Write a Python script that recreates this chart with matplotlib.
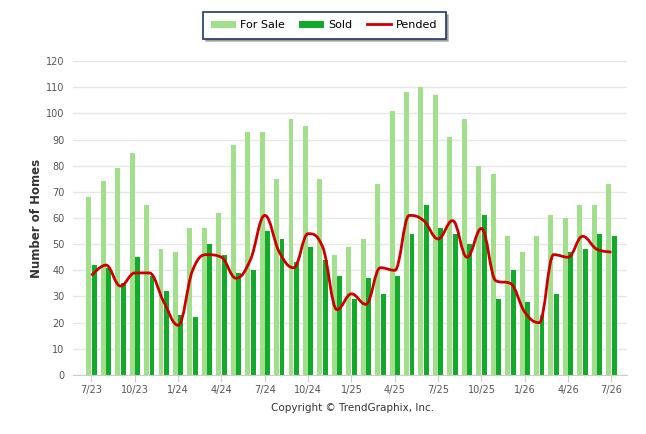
import matplotlib
matplotlib.use("Agg")
import matplotlib.pyplot as plt
from matplotlib.path import Path
from matplotlib.patches import PathPatch, Patch
from matplotlib.lines import Line2D
import numpy as np

# Valeurs mensuelles (7/23 -> 7/26)
mois = ['7/23', '8/23', '9/23', '10/23', '11/23', '12/23',
        '1/24', '2/24', '3/24', '4/24', '5/24', '6/24',
        '7/24', '8/24', '9/24', '10/24', '11/24', '12/24',
        '1/25', '2/25', '3/25', '4/25', '5/25', '6/25',
        '7/25', '8/25', '9/25', '10/25', '11/25', '12/25',
        '1/26', '2/26', '3/26', '4/26', '5/26', '6/26', '7/26']

for_sale = [68, 74, 79, 85, 65, 48, 47, 56, 56, 62, 88, 93,
            93, 75, 98, 95, 75, 46, 49, 52, 73, 101, 108, 110,
            107, 91, 98, 80, 77, 53, 47, 53, 61, 60, 65, 65, 73]

sold = [42, 41, 35, 45, 38, 32, 23, 22, 50, 46, 39, 40,
        55, 52, 43, 49, 44, 38, 29, 37, 31, 38, 54, 65,
        56, 54, 50, 61, 29, 40, 28, 23, 31, 47, 48, 54, 53]

pended = [38, 42, 34, 39, 39, 28, 19, 40, 46, 45, 37, 44,
          61, 47, 41, 54, 49, 25, 31, 27, 41, 40, 61, 59,
          52, 59, 45, 56, 36, 35, 24, 20, 46, 45, 53, 48, 47]

tick_labels = mois[::3]


def chemin_spline(xs, ys, smoothing=1.5):
    """Construit un chemin de Bezier lisse passant par les points (style spline Highcharts)."""
    n = len(xs)
    denom = smoothing + 1
    left = [(xs[i], ys[i]) for i in range(n)]
    right = [(xs[i], ys[i]) for i in range(n)]
    for i in range(1, n - 1):
        x, y = xs[i], ys[i]
        lx, ly = xs[i - 1], ys[i - 1]
        nx, ny = xs[i + 1], ys[i + 1]
        lcx = (smoothing * x + lx) / denom
        lcy = (smoothing * y + ly) / denom
        rcx = (smoothing * x + nx) / denom
        rcy = (smoothing * y + ny) / denom
        if rcx != lcx:
            corr = (rcy - lcy) * (rcx - x) / (rcx - lcx) + y - rcy
            lcy += corr
            rcy += corr
        if lcy > ly and lcy > y:
            lcy = max(ly, y)
            rcy = 2 * y - lcy
        elif lcy < ly and lcy < y:
            lcy = min(ly, y)
            rcy = 2 * y - lcy
        if rcy > ny and rcy > y:
            rcy = max(ny, y)
            lcy = 2 * y - rcy
        elif rcy < ny and rcy < y:
            rcy = min(ny, y)
            lcy = 2 * y - rcy
        left[i] = (lcx, lcy)
        right[i] = (rcx, rcy)
    verts = [(xs[0], ys[0])]
    codes = [Path.MOVETO]
    for i in range(1, n):
        verts += [right[i - 1], left[i], (xs[i], ys[i])]
        codes += [Path.CURVE4] * 3
    return Path(verts, codes)


plt.rcParams['font.family'] = ['DejaVu Sans']

fig = plt.figure(figsize=(6.46, 4.34), dpi=100)
ax = fig.add_axes([0.113, 0.136, 0.8577, 0.7234])

x = np.arange(len(mois))
largeur = 0.34
ax.bar(x - 0.19, for_sale, largeur, color='#a2df8b', zorder=2)
ax.bar(x + 0.19, sold, largeur, color='#12aa2a', zorder=2)
ax.add_patch(PathPatch(chemin_spline(list(x), pended), facecolor='none',
                       edgecolor='#cc0000', lw=2, zorder=3))

ax.set_xlim(-1.28, 37.08)
ax.set_ylim(0, 120)
ax.set_yticks(range(0, 121, 10))
ax.set_xticks(x[::3])
ax.set_xticklabels(tick_labels)
ax.grid(axis='y', color='#e6e6e6', lw=1, zorder=0)
ax.tick_params(axis='y', length=0, labelsize=7, labelcolor='#555555', pad=6)
ax.tick_params(axis='x', length=5, color='#cccccc', labelsize=7, labelcolor='#555555', pad=2)
for cote in ['top', 'right', 'left']:
    ax.spines[cote].set_visible(False)
ax.spines['bottom'].set_color('#cccccc')

ax.set_ylabel('Number of Homes', fontsize=8.5, fontweight='bold', color='#333333', labelpad=2)

fig.text(0.545, 0.06, 'Copyright \u00a9 TrendGraphix, Inc.', ha='center', va='center',
         fontsize=7.5, color='#333333')

handles = [Patch(facecolor='#a2df8b', edgecolor='none', label='For Sale'),
           Patch(facecolor='#12aa2a', edgecolor='none', label='Sold'),
           Line2D([0], [0], color='#cc0000', lw=2, label='Pended')]
leg = fig.legend(handles=handles, loc='center', bbox_to_anchor=(0.502, 0.942), ncol=3,
                 frameon=True, fancybox=False,
                 shadow={'color': '#888888', 'alpha': 0.6, 'ox': 2, 'oy': -2},
                 fontsize=8, handlelength=2.2, handleheight=0.6, columnspacing=1.3,
                 handletextpad=0.4, borderpad=0.75)
leg.get_frame().set_edgecolor('#1f3864')
leg.get_frame().set_linewidth(1.2)

fig.savefig('out.png', dpi=100)
